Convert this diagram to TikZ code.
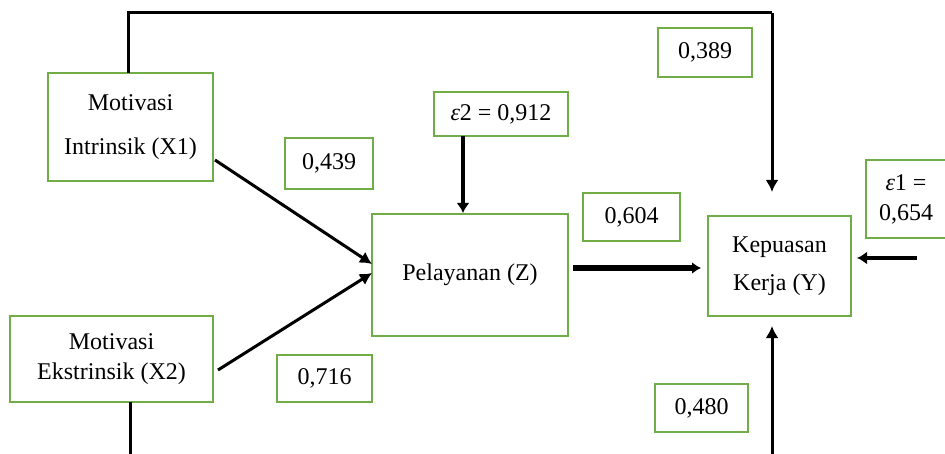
\documentclass[tikz,border=0pt]{standalone}
\usepackage{fontspec}
\setmainfont{Liberation Serif}
\usetikzlibrary{arrows.meta}
\definecolor{boxgreen}{RGB}{112,173,71}
\begin{document}
\begin{tikzpicture}[x=1pt,y=-1pt,
  box/.style={draw=boxgreen,line width=1.3pt,fill=white,align=center,inner sep=0pt,
    font=\fontsize{24}{30}\selectfont},
  conn/.style={line width=3pt,black},
  arr/.style={line width=3pt,black,-{Latex[length=12pt,width=13pt]}},
  thickarr/.style={line width=5.5pt,black,-{Latex[length=9pt,width=12pt]}},
  medarr/.style={line width=4.5pt,black,-{Latex[length=10pt,width=13pt]}}]
\useasboundingbox (0,0) rectangle (945,454);
\node[box,minimum width=165pt,minimum height=108pt] (X1) at (130.5,127) {Motivasi\\[14pt]Intrinsik (X1)};
\node[box,minimum width=203pt,minimum height=86pt] (X2) at (111.5,359) {Motivasi\\Ekstrinsik (X2)};
\node[box,minimum width=196pt,minimum height=122pt] (Z) at (470,275) {Pelayanan (Z)};
\node[box,minimum width=143pt,minimum height=100pt] (Y) at (779.5,266) {Kepuasan\\[8pt]Kerja (Y)};
\node[box,minimum width=134pt,minimum height=44pt] (e2) at (501,114) {\textit{ε}2 = 0,912};
\node[box,minimum width=80pt,minimum height=78pt] (e1) at (906,199) {\textit{ε}1 =\\0,654};
\node[box,minimum width=94pt,minimum height=49pt] (b389) at (705,52.5) {0,389};
\node[box,minimum width=88pt,minimum height=51pt] (b439) at (329,163.5) {0,439};
\node[box,minimum width=97pt,minimum height=48pt] (b604) at (631.5,217) {0,604};
\node[box,minimum width=95pt,minimum height=47pt] (b716) at (324.5,378.5) {0,716};
\node[box,minimum width=93pt,minimum height=48pt] (b480) at (701.5,408) {0,480};
% coordinates
\coordinate (x1top) at (128,73);
\coordinate (topL) at (128,13);
\coordinate (topR) at (772,13);
\coordinate (yTopIn) at (772,192);
\coordinate (x2bot) at (130,402);
\coordinate (botL) at (130,456);
\coordinate (botR) at (772,456);
\coordinate (yBotIn) at (772,326);
\coordinate (x1out) at (215,160);
\coordinate (zin1) at (372,264);
\coordinate (x2out) at (218,370);
\coordinate (zin2) at (372,273);
\coordinate (zout) at (573,268);
\coordinate (yin) at (701,268);
\coordinate (e2out) at (463,136);
\coordinate (zinTop) at (463,213);
\coordinate (e1out) at (917,258);
\coordinate (yinR) at (857,258);
% connectors
\draw[conn] (x1top) -- (topL) -- (topR);
\draw[arr] (topR) -- (yTopIn);
\draw[conn] (x2bot) -- (botL);
\draw[arr] (botR) -- (yBotIn);
\draw[arr] (x1out) -- (zin1);
\draw[arr] (x2out) -- (zin2);
\draw[thickarr] (zout) -- (yin);
\draw[medarr] (e2out) -- (zinTop);
\draw[medarr] (e1out) -- (yinR);
\end{tikzpicture}
\end{document}
